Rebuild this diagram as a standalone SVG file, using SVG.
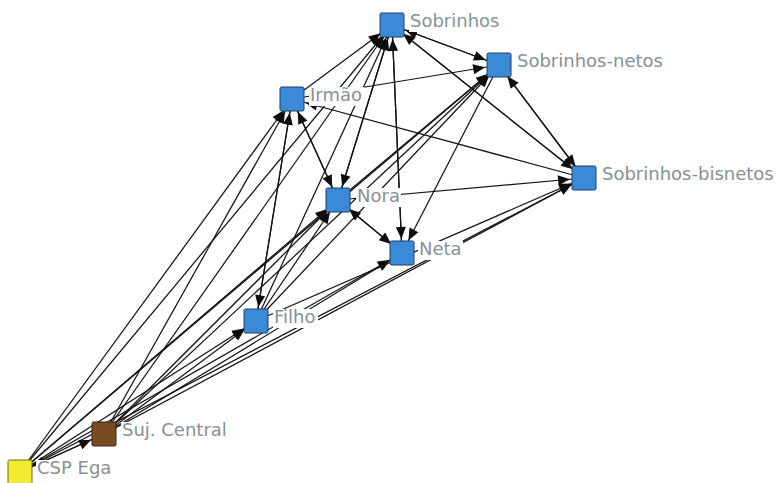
<svg xmlns="http://www.w3.org/2000/svg" width="776" height="483" viewBox="0 0 776 483">
<defs>
<marker id="ah" markerUnits="userSpaceOnUse" markerWidth="12" markerHeight="10" refX="26" refY="5" orient="auto" overflow="visible">
<path d="M0,0 L12,5 L0,10 z" fill="#0d0d0d"/>
</marker>
<style>
.e{stroke:#141414;stroke-width:1.25;fill:none;marker-end:url(#ah)}
.b{fill:#3a8ad8;stroke:#1d3f66;stroke-width:1}
.bg{fill:#fff}
.t{font-family:"DejaVu Sans",Verdana,sans-serif;font-size:18px;fill:#8a8f96}
</style>
</defs>
<rect width="776" height="483" fill="#fff"/>
<g id="connectors">
<!-- CSP Ega -->
<line class="e" x1="20" y1="472" x2="392" y2="25"/>
<line class="e" x1="20" y1="472" x2="292" y2="99"/>
<line class="e" x1="20" y1="472" x2="499" y2="65"/>
<line class="e" x1="20" y1="472" x2="338" y2="200"/>
<line class="e" x1="20" y1="472" x2="256" y2="321"/>
<line class="e" x1="20" y1="472" x2="402" y2="253"/>
<line class="e" x1="20" y1="472" x2="584" y2="178"/>
<line class="e" x1="20" y1="472" x2="104" y2="434"/>
<!-- Suj. Central -->
<line class="e" x1="104" y1="434" x2="392" y2="25"/>
<line class="e" x1="104" y1="434" x2="292" y2="99"/>
<line class="e" x1="104" y1="434" x2="499" y2="65"/>
<line class="e" x1="104" y1="434" x2="338" y2="200"/>
<line class="e" x1="104" y1="434" x2="256" y2="321"/>
<line class="e" x1="104" y1="434" x2="402" y2="253"/>
<line class="e" x1="104" y1="434" x2="584" y2="178"/>
<line class="e" x1="104" y1="434" x2="20" y2="472"/>
<!-- Irmão -->
<line class="e" x1="292" y1="99" x2="392" y2="25"/>
<line class="e" x1="292" y1="99" x2="338" y2="200"/>
<line class="e" x1="292" y1="99" x2="256" y2="321"/>
<line class="e" x1="292" y1="99" x2="499" y2="65"/>
<!-- Filho -->
<line class="e" x1="256" y1="321" x2="392" y2="25"/>
<line class="e" x1="256" y1="321" x2="292" y2="99"/>
<line class="e" x1="256" y1="321" x2="338" y2="200"/>
<line class="e" x1="256" y1="321" x2="499" y2="65"/>
<line class="e" x1="256" y1="321" x2="584" y2="178"/>
<!-- Nora -->
<line class="e" x1="338" y1="200" x2="392" y2="25"/>
<line class="e" x1="338" y1="200" x2="292" y2="99"/>
<line class="e" x1="338" y1="200" x2="499" y2="65"/>
<line class="e" x1="338" y1="200" x2="402" y2="253"/>
<line class="e" x1="338" y1="200" x2="584" y2="178"/>
<!-- Neta -->
<line class="e" x1="402" y1="253" x2="338" y2="200"/>
<line class="e" x1="402" y1="253" x2="392" y2="25"/>
<!-- Sobrinhos -->
<line class="e" x1="392" y1="25" x2="499" y2="65"/>
<line class="e" x1="392" y1="25" x2="584" y2="178"/>
<line class="e" x1="392" y1="25" x2="402" y2="253"/>
<line class="e" x1="392" y1="25" x2="338" y2="200"/>
<!-- Sobrinhos-netos -->
<line class="e" x1="499" y1="65" x2="392" y2="25"/>
<line class="e" x1="499" y1="65" x2="584" y2="178"/>
<line class="e" x1="499" y1="65" x2="402" y2="253"/>
<!-- Sobrinhos-bisnetos -->
<line class="e" x1="584" y1="178" x2="499" y2="65"/>
<line class="e" x1="584" y1="178" x2="292" y2="99"/>
<line class="e" x1="584" y1="178" x2="392" y2="25"/>
</g>
<g id="n-sobrinhos">
<rect class="b" x="380" y="13" width="24" height="24" rx="1.5"/>
<rect class="bg" x="409" y="13" width="91" height="19"/>
<text class="t" x="410" y="27">Sobrinhos</text>
</g>
<g id="n-sobrinhos-netos">
<rect class="b" x="487" y="53" width="24" height="24" rx="1.5"/>
<rect class="bg" x="516" y="53" width="148" height="19"/>
<text class="t" x="517" y="67">Sobrinhos-netos</text>
</g>
<g id="n-irmao">
<rect class="b" x="280" y="87" width="24" height="24" rx="1.5"/>
<rect class="bg" x="309" y="87" width="55" height="19"/>
<text class="t" x="310" y="101">Irmão</text>
</g>
<g id="n-sobrinhos-bisnetos">
<rect class="b" x="572" y="166" width="24" height="24" rx="1.5"/>
<rect class="bg" x="601" y="166" width="174" height="19"/>
<text class="t" x="602" y="180">Sobrinhos-bisnetos</text>
</g>
<g id="n-nora">
<rect class="b" x="326" y="188" width="24" height="24" rx="1.5"/>
<rect class="bg" x="356" y="188" width="45" height="19"/>
<text class="t" x="357" y="202">Nora</text>
</g>
<g id="n-neta">
<rect class="b" x="390" y="241" width="24" height="24" rx="1.5"/>
<rect class="bg" x="418" y="241" width="45" height="19"/>
<text class="t" x="419" y="255">Neta</text>
</g>
<g id="n-filho">
<rect class="b" x="244" y="309" width="24" height="24" rx="1.5"/>
<rect class="bg" x="273" y="309" width="45" height="19"/>
<text class="t" x="274" y="323">Filho</text>
</g>
<g id="n-suj-central">
<rect x="92" y="422" width="24" height="24" rx="1.5" fill="#7a4a23" stroke="#3a2410"/>
<rect class="bg" x="121" y="422" width="108" height="19"/>
<text class="t" x="122" y="436">Suj. Central</text>
</g>
<g id="n-csp-ega">
<rect x="8" y="460" width="24" height="24" rx="1.5" fill="#f2ea2e" stroke="#6f6a1a"/>
<rect class="bg" x="36" y="460" width="78" height="19"/>
<text class="t" x="37" y="474">CSP Ega</text>
</g>
</svg>
